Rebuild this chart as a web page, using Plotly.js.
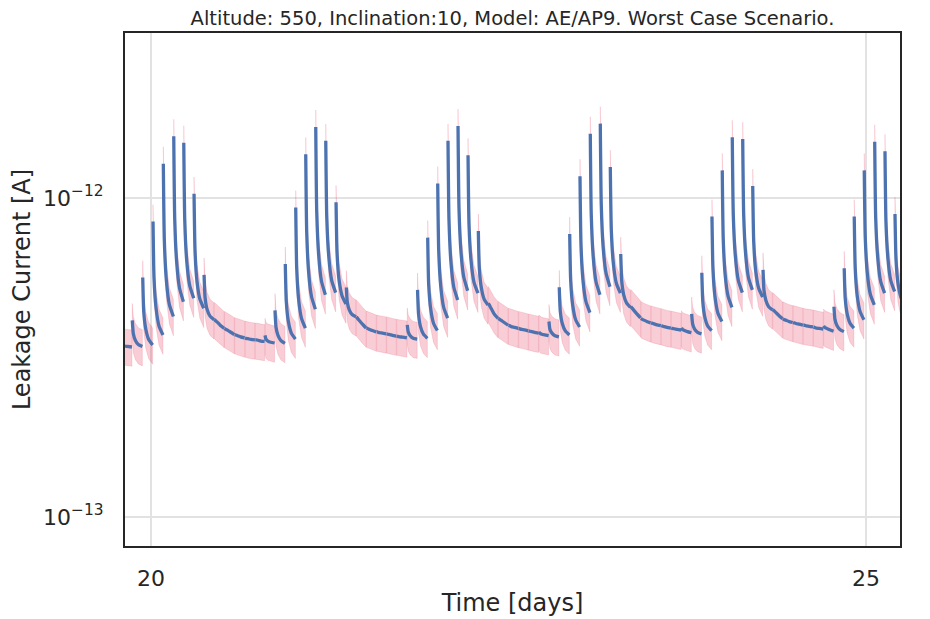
<!DOCTYPE html>
<html>
<head>
<meta charset="utf-8">
<script src="https://cdn.plot.ly/plotly-3.0.1.min.js"></script>
<style>
  html, body { margin: 0; padding: 0; background: #ffffff; }
  #chart { width: 930px; height: 619px; }
</style>
</head>
<body>
<div id="chart"></div>
<script>
// ---------------- data ----------------
// Start time of each orbit segment (days); the last entry closes the final segment.
const passStart = [
  19.748, 19.869, 19.942, 20.014, 20.086, 20.159, 20.229, 20.301, 20.371,
  20.443, 20.514, 20.585, 20.657, 20.729, 20.797,
  20.867, 20.939, 21.012, 21.082, 21.152, 21.222, 21.294, 21.366,
  21.436, 21.507, 21.578, 21.648, 21.718, 21.792,
  21.864, 21.935, 22.005, 22.077, 22.147, 22.217, 22.289,
  22.359, 22.429, 22.500, 22.571, 22.641, 22.712, 22.783,
  22.855, 22.928, 23.000, 23.072, 23.142, 23.212, 23.285,
  23.355, 23.426, 23.497, 23.568, 23.638, 23.710, 23.781,
  23.852, 23.923, 23.995, 24.065, 24.138, 24.208, 24.280,
  24.348, 24.419, 24.490, 24.562, 24.633, 24.704, 24.776,
  24.848, 24.918, 24.988, 25.061, 25.133, 25.203,
  25.273
];
// Fraction of each segment at which the values below were read.
const sampleFrac = [0, 0.1, 0.3, 0.6, 1.0];
// Leakage current, in units of 1e-13 A, at those fractions of each segment.
const valStart = [
  3.49, 4.13, 5.63, 8.43, 12.8, 15.6, 14.9, 10.3, 5.74,
  4.16, 3.90, 3.73, 3.64, 3.59, 3.71,
  4.44, 6.21, 9.33, 13.7, 16.7, 15.1, 9.69, 5.24,
  4.24, 3.91, 3.80, 3.75, 3.69, 4.00,
  5.15, 7.51, 11.1, 15.1, 16.8, 13.6, 7.88,
  4.67, 4.19, 3.99, 3.90, 3.83, 3.80, 4.10,
  5.25, 7.71, 11.7, 15.9, 17.1, 12.5, 6.67,
  4.57, 4.19, 4.06, 3.98, 3.91, 3.92, 4.33,
  5.83, 8.74, 12.2, 15.5, 15.3, 10.9, 5.95,
  4.47, 4.18, 4.07, 3.99, 3.94, 3.97, 4.56,
  6.02, 8.74, 12.2, 15.0, 14.0, 8.91
];
const val10 = [
  3.47, 3.76, 4.41, 5.60, 7.37, 8.60, 8.50, 6.81, 4.88,
  4.13, 3.88, 3.72, 3.63, 3.59, 3.61,
  3.94, 4.73, 6.04, 7.84, 9.11, 8.74, 6.71, 4.71,
  4.20, 3.90, 3.80, 3.74, 3.68, 3.80,
  4.33, 5.36, 6.83, 8.51, 9.28, 8.24, 6.04,
  4.62, 4.17, 3.98, 3.89, 3.82, 3.77, 3.87,
  4.42, 5.50, 7.14, 8.87, 9.51, 7.92, 5.50,
  4.53, 4.17, 4.05, 3.97, 3.90, 3.87, 4.03,
  4.73, 5.98, 7.43, 8.85, 8.87, 7.28, 5.15,
  4.44, 4.16, 4.06, 3.99, 3.93, 3.93, 4.17,
  4.85, 6.02, 7.50, 8.69, 8.43, 6.42
];
const val30 = [
  3.45, 3.58, 3.89, 4.53, 5.53, 6.30, 6.34, 5.49, 4.48,
  4.08, 3.85, 3.70, 3.62, 3.58, 3.56,
  3.71, 4.11, 4.81, 5.86, 6.64, 6.57, 5.55, 4.46,
  4.13, 3.87, 3.78, 3.73, 3.67, 3.70,
  3.95, 4.51, 5.31, 6.31, 6.81, 6.38, 5.26,
  4.50, 4.13, 3.95, 3.87, 3.81, 3.74, 3.77,
  4.04, 4.62, 5.53, 6.56, 6.99, 6.25, 4.98,
  4.45, 4.14, 4.03, 3.95, 3.89, 3.84, 3.88,
  4.24, 4.92, 5.75, 6.61, 6.68, 5.92, 4.78,
  4.38, 4.14, 4.04, 3.97, 3.91, 3.90, 3.98,
  4.34, 4.96, 5.83, 6.54, 6.48, 5.40
];
const val60 = [
  3.43, 3.47, 3.60, 3.97, 4.63, 5.21, 5.31, 4.82, 4.26,
  3.99, 3.80, 3.67, 3.60, 3.56, 3.53,
  3.57, 3.77, 4.19, 4.90, 5.47, 5.51, 4.94, 4.31,
  4.03, 3.84, 3.77, 3.71, 3.66, 3.63,
  3.74, 4.05, 4.54, 5.25, 5.64, 5.44, 4.82,
  4.33, 4.07, 3.93, 3.86, 3.79, 3.72, 3.70,
  3.83, 4.15, 4.73, 5.45, 5.80, 5.40, 4.69,
  4.34, 4.10, 4.00, 3.93, 3.87, 3.81, 3.79,
  3.97, 4.35, 4.92, 5.52, 5.62, 5.21, 4.56,
  4.29, 4.10, 4.02, 3.96, 3.90, 3.86, 3.87,
  4.05, 4.41, 4.99, 5.48, 5.51, 4.87
];
const valEnd = [
  3.41, 3.42, 3.46, 3.72, 4.25, 4.73, 4.85, 4.51, 4.15,
  3.90, 3.73, 3.64, 3.59, 3.55, 3.51,
  3.50, 3.61, 3.91, 4.48, 4.97, 5.05, 4.65, 4.24,
  3.91, 3.80, 3.75, 3.69, 3.64, 3.61,
  3.63, 3.84, 4.20, 4.79, 5.12, 5.03, 4.62,
  4.19, 3.99, 3.90, 3.83, 3.77, 3.70, 3.67,
  3.72, 3.94, 4.37, 4.97, 5.27, 5.03, 4.54,
  4.21, 4.06, 3.98, 3.91, 3.85, 3.78, 3.75,
  3.84, 4.10, 4.54, 5.05, 5.15, 4.89, 4.46,
  4.18, 4.07, 3.99, 3.94, 3.88, 3.82, 3.81,
  3.91, 4.15, 4.62, 5.03, 5.09, 4.62
];
const UNIT = 1e-13;          // values above are in 1e-13 A
const bandHigh = 1.13;       // upper edge of the uncertainty band (relative)
const bandLow = 0.87;        // lower edge of the uncertainty band (relative)
const xTicks = [20, 25];
const yTicks = [1e-13, 1e-12];
const yTickText = ['10<sup>\u221213</sup>', '10<sup>\u221212</sup>'];

// ---------------- build traces ----------------
const segGap = 0.0025;
const traces = [];
const lineX = [], lineY = [];
const nSeg = valStart.length;
for (let i = 0; i < nSeg; i++) {
  const t0 = passStart[i];
  const t1 = (i < nSeg - 1) ? passStart[i + 1] - segGap : passStart[i + 1];
  const vals = [valStart[i], val10[i], val30[i], val60[i], valEnd[i]].map(v => v * UNIT);
  const xs = sampleFrac.map(f => t0 + f * (t1 - t0));
  const up = vals.map(v => v * bandHigh);
  const lo = vals.map(v => v * bandLow);
  traces.push({
    x: xs.concat(xs.slice().reverse(), [xs[0]]),
    y: up.concat(lo.slice().reverse(), [up[0]]),
    type: 'scatter', mode: 'lines', fill: 'toself',
    fillcolor: 'rgba(220,20,60,0.21)',
    line: { color: 'rgba(220,20,60,0.12)', width: 1 },
    hoverinfo: 'skip', showlegend: false
  });
  xs.forEach((x, k) => { lineX.push(x); lineY.push(vals[k]); });
  lineX.push(null); lineY.push(null);
}
traces.push({
  x: lineX, y: lineY, type: 'scatter', mode: 'lines',
  line: { color: '#4C72B0', width: 3.3, shape: 'spline', smoothing: 0.5 },
  connectgaps: false, showlegend: false
});

const axisCommon = {
  showline: true, mirror: true, linecolor: '#262626', linewidth: 2,
  showgrid: true, gridcolor: '#e2e2e2', gridwidth: 1.3,
  zeroline: false, ticks: 'outside', tickcolor: 'rgba(0,0,0,0)',
  tickfont: { family: 'DejaVu Sans', size: 22, color: '#262626' }
};

const layout = {
  width: 930, height: 619,
  margin: { l: 125, r: 30, t: 33, b: 73 },
  paper_bgcolor: '#ffffff', plot_bgcolor: '#ffffff',
  showlegend: false,
  font: { family: 'DejaVu Sans', color: '#262626' },
  title: {
    text: 'Altitude: 550, Inclination:10, Model: AE/AP9. Worst Case Scenario.',
    font: { family: 'DejaVu Sans', size: 19.5, color: '#262626' },
    x: 0.5, xref: 'paper', xanchor: 'center',
    y: 1 - 18 / 619, yref: 'container', yanchor: 'middle'
  },
  xaxis: Object.assign({}, axisCommon, {
    range: [19.818, 25.238],
    tickvals: xTicks, ticktext: xTicks.map(String), ticklen: 12,
    title: { text: 'Time [days]', font: { family: 'DejaVu Sans', size: 24, color: '#262626' }, standoff: 4 }
  }),
  yaxis: Object.assign({}, axisCommon, {
    type: 'log',
    range: [-13.091, -11.483],
    tickvals: yTicks, ticktext: yTickText, ticklen: 15,
    title: { text: 'Leakage Current [A]', font: { family: 'DejaVu Sans', size: 24, color: '#262626' }, standoff: 6 }
  })
};

Plotly.newPlot('chart', traces, layout, { displayModeBar: false, staticPlot: true });
</script>
</body>
</html>
